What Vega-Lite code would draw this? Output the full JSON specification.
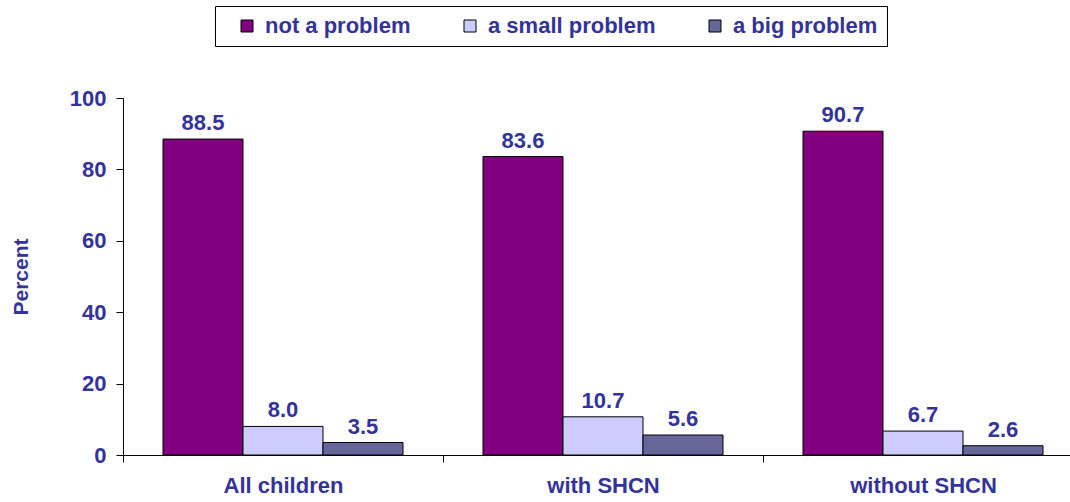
{
  "$schema": "https://vega.github.io/schema/vega-lite/v6.json",
  "width": 960,
  "height": 357,
  "autosize": "none",
  "padding": {"left": 123, "top": 98, "right": 0, "bottom": 47},
  "background": "white",
  "config": {
    "view": {"stroke": null},
    "font": "Liberation Sans"
  },
  "data": {
    "values": [
      {"group": "All children", "type": "not a problem", "value": 88.5},
      {"group": "All children", "type": "a small problem", "value": 8.0},
      {"group": "All children", "type": "a big problem", "value": 3.5},
      {"group": "with SHCN", "type": "not a problem", "value": 83.6},
      {"group": "with SHCN", "type": "a small problem", "value": 10.7},
      {"group": "with SHCN", "type": "a big problem", "value": 5.6},
      {"group": "without SHCN", "type": "not a problem", "value": 90.7},
      {"group": "without SHCN", "type": "a small problem", "value": 6.7},
      {"group": "without SHCN", "type": "a big problem", "value": 2.6}
    ]
  },
  "encoding": {
    "x": {
      "field": "group",
      "type": "nominal",
      "sort": ["All children", "with SHCN", "without SHCN"],
      "scale": {"paddingInner": 0, "paddingOuter": 0},
      "axis": {
        "title": null,
        "labelAngle": 0,
        "tickBand": "extent",
        "tickSize": 7,
        "tickColor": "black",
        "domainColor": "black",
        "labelFont": "Liberation Sans",
        "labelFontWeight": "bold",
        "labelFontSize": 22,
        "labelColor": "#333399",
        "labelPadding": 13
      }
    },
    "xOffset": {
      "field": "type",
      "type": "nominal",
      "sort": ["not a problem", "a small problem", "a big problem"],
      "scale": {"paddingInner": 0, "paddingOuter": 0.5}
    },
    "y": {
      "field": "value",
      "type": "quantitative",
      "scale": {"domain": [0, 100], "nice": false},
      "axis": {
        "title": "Percent",
        "titleFont": "Liberation Sans",
        "titleFontWeight": "bold",
        "titleFontSize": 21,
        "titleColor": "#333399",
        "titlePadding": 38,
        "values": [0, 20, 40, 60, 80, 100],
        "grid": false,
        "tickSize": 7,
        "tickColor": "black",
        "domainColor": "black",
        "labelFont": "Liberation Sans",
        "labelFontWeight": "bold",
        "labelFontSize": 22,
        "labelColor": "#333399",
        "labelPadding": 10
      }
    }
  },
  "layer": [
    {
      "mark": {"type": "bar", "stroke": "black", "strokeWidth": 1},
      "encoding": {
        "color": {
          "field": "type",
          "type": "nominal",
          "scale": {
            "domain": ["not a problem", "a small problem", "a big problem"],
            "range": ["#800080", "#CCCCFF", "#666699"]
          },
          "legend": {
            "title": null,
            "orient": "none",
            "legendX": 92,
            "legendY": -92,
            "direction": "horizontal",
            "symbolType": "square",
            "symbolSize": 144,
            "symbolStrokeColor": "black",
            "symbolStrokeWidth": 1,
            "symbolOpacity": 1,
            "symbolOffset": 12,
            "labelFont": "Liberation Sans",
            "labelFontWeight": "bold",
            "labelFontSize": 22,
            "labelColor": "#333399",
            "labelOffset": 7,
            "columnPadding": 36,
            "strokeColor": "black",
            "fillColor": "white",
            "padding": 9,
            "labelLimit": 400
          }
        }
      }
    },
    {
      "mark": {
        "type": "text",
        "baseline": "bottom",
        "dy": -4,
        "font": "Liberation Sans",
        "fontWeight": "bold",
        "fontSize": 22,
        "color": "#333399"
      },
      "encoding": {
        "text": {"field": "value", "type": "quantitative", "format": ".1f"}
      }
    }
  ]
}
